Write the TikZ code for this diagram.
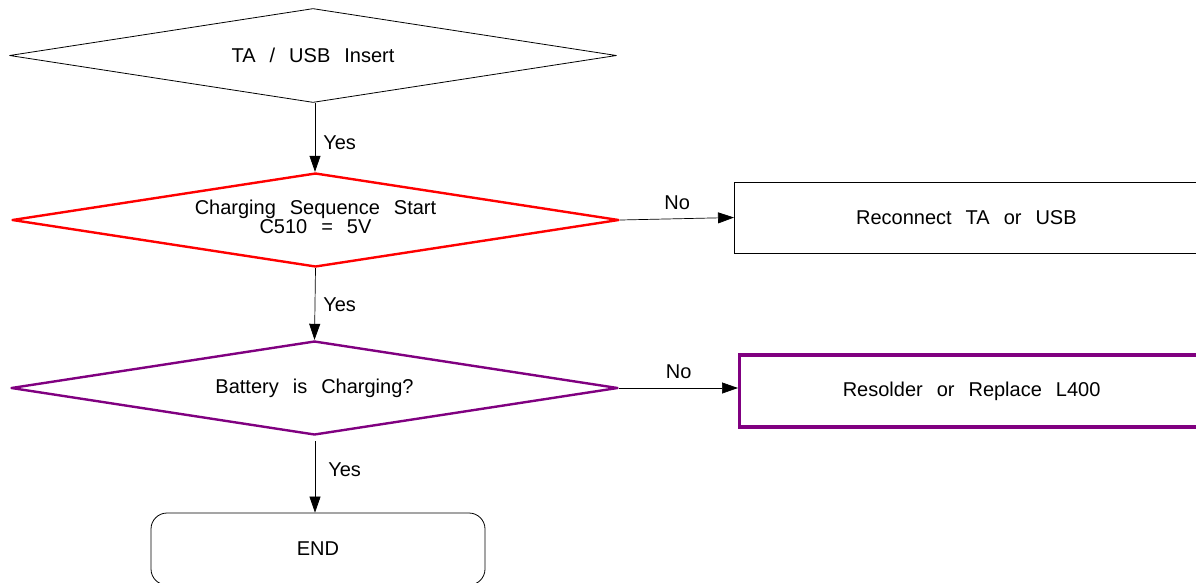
\documentclass[tikz,border=0pt]{standalone}
\usepackage{fontspec}
\setmainfont{Liberation Sans}
\usetikzlibrary{shapes.geometric,arrows.meta}
\definecolor{purp}{HTML}{800080}
\definecolor{redc}{HTML}{FF0000}
\newcommand\widewords{\spaceskip 14pt\relax}
\tikzset{
  txt/.style={font={\fontsize{20}{18.5}\selectfont\widewords}, align=center},
  dec/.style={diamond, draw, txt, minimum width=607pt, minimum height=94pt, inner sep=0pt, aspect=6.4, line join=round},
  stepbox/.style={rectangle, draw, txt},
  arr/.style={-{Triangle[length=16pt,width=11pt]}, line width=0.7pt},
  lbl/.style={txt, inner sep=0pt}
}
\begin{document}
\begin{tikzpicture}[x=1pt,y=-1pt]
\useasboundingbox (0,0) rectangle (1196,582);
\clip (0,0) rectangle (1196,582);
\node[dec, line width=0.8pt] (d1) at (313,55.5) {TA / USB Insert};
\node[dec, draw=redc, line width=2.4pt, text depth=6.5pt] (d2) at (315.5,220) {Charging Sequence Start\\C510 = 5V};
\node[dec, draw=purp, line width=2.4pt] (d3) at (314.5,388) {Battery is Charging?};
\node[stepbox, line width=0.8pt, minimum width=464pt, minimum height=71pt, anchor=west] (b1) at (734,217.5) {Reconnect TA or USB};
\node[stepbox, draw=purp, line width=3.2pt, minimum width=464pt, minimum height=72pt, anchor=west] (b2) at (738,391) {Resolder or Replace L400};
\node[stepbox, rounded corners=16pt, line width=0.8pt, minimum width=334pt, minimum height=72pt] (e) at (318,549) {END};
\coordinate (s1) at (315,103);
\coordinate (s3) at (315,441);
\draw[arr] (s1) -- (s1 |- d2.north) node[lbl, midway, anchor=west, xshift=8pt, yshift=-5pt] {Yes};
\draw[arr] (d2.south) -- (d3.north) node[lbl, midway, anchor=west, xshift=8pt, yshift=-1pt] {Yes};
\draw[arr] (s3) -- (s3 |- e.north) node[lbl, pos=0.38, anchor=west, xshift=13pt, yshift=-1pt] {Yes};
\draw[arr] (d2.east) -- (b1.west) node[lbl, midway, anchor=south, yshift=9pt] {No};
\draw[arr] (d3.east) -- (d3.east -| b2.west) node[lbl, midway, anchor=south, yshift=9pt] {No};
\end{tikzpicture}
\end{document}
